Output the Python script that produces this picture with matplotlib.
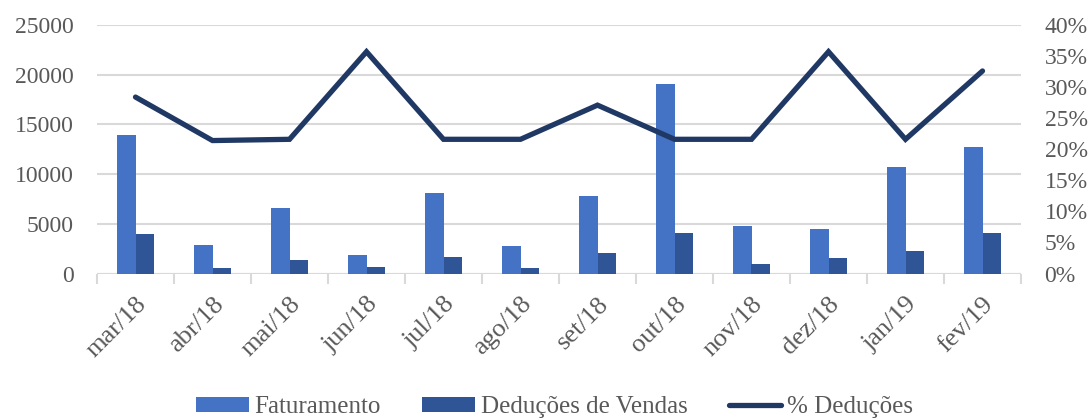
import matplotlib
matplotlib.use("Agg")
import matplotlib.pyplot as plt
import numpy as np
from matplotlib.ticker import FuncFormatter

# monthly data
meses = ["mar/18", "abr/18", "mai/18", "jun/18", "jul/18", "ago/18",
         "set/18", "out/18", "nov/18", "dez/18", "jan/19", "fev/19"]
faturamento = [13950, 2900, 6600, 1820, 8100, 2760, 7830, 19050, 4800, 4500, 10680, 12760]
deducoes = [3950, 580, 1400, 650, 1700, 580, 2050, 4100, 1000, 1600, 2300, 4100]
pct_deducoes = [28.4, 21.4, 21.6, 35.7, 21.6, 21.6, 27.1, 21.6, 21.6, 35.7, 21.6, 32.6]

cor_fat = "#4472C4"
cor_ded = "#2F5597"
cor_linha = "#203864"
cinza = "#595959"

plt.rcParams["font.family"] = ["Liberation Serif", "DejaVu Serif"]

fig = plt.figure(figsize=(10.92, 4.18), dpi=100)
ax = fig.add_axes([97 / 1092, 1 - 273.5 / 418, (1021 - 97) / 1092, (273.5 - 25) / 418])
ax2 = ax.twinx()

x = np.arange(len(meses))
w = 0.24
ax.bar(x - w / 2, faturamento, w, color=cor_fat, label="Faturamento", zorder=2)
ax.bar(x + w / 2, deducoes, w, color=cor_ded, label="Deduções de Vendas", zorder=2)
ax2.plot(x, pct_deducoes, color=cor_linha, lw=3.8, solid_capstyle="round",
         solid_joinstyle="miter", label="% Deduções")

ax.set_xlim(-0.5, len(meses) - 0.5)
ax.set_ylim(0, 25000)
ax.set_yticks(range(0, 25001, 5000))
ax2.set_ylim(0, 40)
ax2.set_yticks(range(0, 41, 5))
ax2.yaxis.set_major_formatter(FuncFormatter(lambda v, p: "%d%%" % v))

#gridlines
ax.grid(axis="y", color="#d9d9d9", lw=1.5, zorder=0)
ax.set_axisbelow(True)

#remove borders
for a in (ax, ax2):
    for s in ["top", "right", "left", "bottom"]:
        a.spines[s].set_visible(False)

# x axis line with ticks between categories
ax.axhline(0, color="#d9d9d9", lw=1.5, zorder=1)
ax.set_xticks(np.arange(-0.5, len(meses), 1), minor=True)
ax.tick_params(axis="x", which="minor", length=7, color="#d9d9d9", width=1.5)
ax.set_xticks(x)
ax.set_xticklabels(meses, rotation=45, ha="right", rotation_mode="anchor")
ax.tick_params(axis="x", which="major", length=0, pad=14, labelsize=19, labelcolor=cinza)
ax.tick_params(axis="y", length=0, pad=17, labelsize=17, labelcolor=cinza)
ax2.tick_params(axis="y", length=0, pad=17, labelsize=17, labelcolor=cinza)

h1, l1 = ax.get_legend_handles_labels()
h2, l2 = ax2.get_legend_handles_labels()
fig.legend(h1 + h2, l1 + l2, loc="lower center", bbox_to_anchor=(0.508, -0.055), ncol=3,
           frameon=False, fontsize=18, labelcolor=cinza, handlelength=2.1,
           handleheight=0.55, handletextpad=0.24, columnspacing=1.65)

fig.savefig("out.png", dpi=100)
